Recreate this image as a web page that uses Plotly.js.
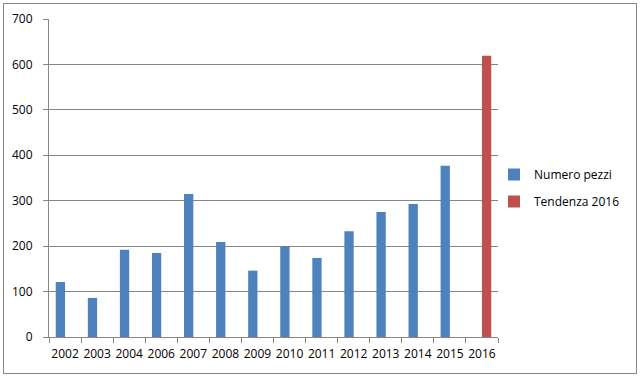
<!DOCTYPE html>
<html>
<head>
<meta charset="utf-8">
<script src="https://cdn.plot.ly/plotly-3.0.1.min.js"></script>
<style>
  html, body { margin: 0; padding: 0; background: #fff; }
  #wrap { position: relative; width: 644px; height: 378px; }
  #chart { position: absolute; left: 0; top: 0; width: 644px; height: 378px; }
  #frame { position: absolute; left: 3px; top: 3px; width: 632px; height: 369px; border: 1px solid #868686; pointer-events: none; }
</style>
</head>
<body>
<div id="wrap"><div id="chart"></div><div id="frame"></div></div>
<script>
// Data
const categories = ['2002','2003','2004','2006','2007','2008','2009','2010','2011','2012','2013','2014','2015','2016'];
const pezziYears = ['2002','2003','2004','2006','2007','2008','2009','2010','2011','2012','2013','2014','2015'];
const pezziValues = [121, 86, 192, 185, 315, 209, 146, 200, 174, 233, 275, 293, 377];
const tendenzaYears = ['2016'];
const tendenzaValues = [619];
const yTicks = [0, 100, 200, 300, 400, 500, 600, 700];

const W = 644, H = 378;
const plotL = 49, plotR = 498, plotT = 19, plotB = 337;
const gridColor = '#868686';
const fontFam = '"Open Sans", "Liberation Sans", sans-serif';
const barW = 0.29; // fraction of a category slot

const traces = [
  { type: 'bar', name: 'Numero pezzi', x: pezziYears, y: pezziValues,
    width: barW, offset: -barW,
    marker: { color: '#4F81BD' }, legendgroup: 'a', hoverinfo: 'x+y' },
  { type: 'bar', name: 'Tendenza 2016', x: tendenzaYears, y: tendenzaValues,
    width: barW, offset: 0,
    marker: { color: '#C0504D' }, legendgroup: 'b', hoverinfo: 'x+y' }
];

const layout = {
  width: W, height: H,
  margin: { l: plotL, r: W - plotR, t: plotT, b: H - plotB, pad: 0 },
  paper_bgcolor: '#ffffff', plot_bgcolor: '#ffffff',
  font: { family: fontFam, size: 12, color: '#000000' },
  barmode: 'overlay',
  showlegend: true,
  legend: {
    x: (494 - plotL) / (plotR - plotL), xanchor: 'left',
    y: (plotB - 188) / (plotB - plotT), yanchor: 'middle',
    traceorder: 'grouped', tracegroupgap: 8,
    font: { family: fontFam, size: 12, color: '#000000' },
    bgcolor: 'rgba(0,0,0,0)', borderwidth: 0
  },
  xaxis: {
    type: 'category', categoryorder: 'array', categoryarray: categories,
    range: [-0.5, categories.length - 0.5],
    tickson: 'boundaries', ticks: 'outside', ticklen: 5, tickcolor: gridColor, tickwidth: 1,
    showline: true, linecolor: gridColor, linewidth: 1, tickangle: 0,
    showgrid: false, zeroline: false, ticklabelstandoff: 6,
    tickfont: { family: fontFam, size: 12, color: '#000' },
    fixedrange: true
  },
  yaxis: {
    range: [0, 700], tickmode: 'array', tickvals: yTicks, ticktext: yTicks.map(String),
    ticks: 'outside', ticklen: 5, tickcolor: gridColor, tickwidth: 1,
    showline: true, linecolor: gridColor, linewidth: 1,
    showgrid: true, gridcolor: gridColor, gridwidth: 1,
    zeroline: false, ticklabelstandoff: 8,
    tickfont: { family: fontFam, size: 12, color: '#000' },
    fixedrange: true
  }
};

Plotly.newPlot('chart', traces, layout, { displayModeBar: false, staticPlot: true });
</script>
</body>
</html>
